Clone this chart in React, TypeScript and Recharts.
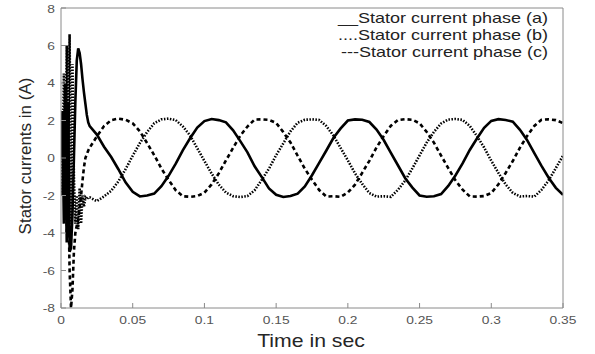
import React from "react";
import { LineChart, Line, XAxis, YAxis, Legend, Label } from "recharts";

// time axis (s): fine steps during start-up, then 5 ms
const TIME_START = [
  0, 0.001, 0.002, 0.003, 0.004, 0.005, 0.006, 0.007, 0.008, 0.009,
  0.01, 0.011, 0.012, 0.013, 0.014, 0.015, 0.016, 0.017, 0.018, 0.019,
];
const TIME_STEADY = [
  0.02, 0.025, 0.03, 0.035, 0.04, 0.045, 0.05, 0.055, 0.06, 0.065,
  0.07, 0.075, 0.08, 0.085, 0.09, 0.095, 0.1, 0.105, 0.11, 0.115,
  0.12, 0.125, 0.13, 0.135, 0.14, 0.145, 0.15, 0.155, 0.16, 0.165,
  0.17, 0.175, 0.18, 0.185, 0.19, 0.195, 0.2, 0.205, 0.21, 0.215,
  0.22, 0.225, 0.23, 0.235, 0.24, 0.245, 0.25, 0.255, 0.26, 0.265,
  0.27, 0.275, 0.28, 0.285, 0.29, 0.295, 0.3, 0.305, 0.31, 0.315,
  0.32, 0.325, 0.33, 0.335, 0.34, 0.345, 0.35,
];

// start-up transient
const A_START = [0, 2.5, -3.5, 4.0, -4.5, 3.0, -5.0, -4.8, -3.0, 0.0, 3.0, 5.2, 5.85, 5.6, 5.0, 4.2, 3.5, 2.9, 2.3, 1.9];
const B_START = [0, -2.0, 4.5, -2.5, 6.0, -0.5, 6.6, -3.5, 5.0, -1.0, -3.5, -2.0, -3.8, -1.6, -3.5, -2.0, -2.6, -2.1, -2.2, -2.1];
const C_START = [0, 1.5, -2.0, 3.0, -4.0, -1.5, -6.0, -8.0, -7.0, -5.0, -4.0, -3.6, -3.3, -2.7, -2.0, -1.2, -0.5, 0.0, 0.2, 0.4];

// steady state
const A_STEADY = [
  1.7, 1.25, 0.6, 0.05, -0.6, -1.3, -1.8, -2.05, -2.0, -1.9,
  -1.5, -0.95, -0.3, 0.42, 1.05, 1.62, 1.97, 2.08, 2.02, 1.9,
  1.48, 0.9, 0.3, -0.44, -1.02, -1.62, -1.96, -2.08, -2.03, -1.9,
  -1.52, -0.92, -0.26, 0.4, 1.08, 1.58, 2.0, 2.06, 2.04, 1.92,
  1.52, 0.96, 0.27, -0.4, -1.08, -1.58, -2.0, -2.07, -2.04, -1.92,
  -1.49, -0.93, -0.29, 0.43, 1.04, 1.61, 1.98, 2.07, 2.03, 1.94,
  1.5, 0.95, 0.26, -0.42, -1.05, -1.59, -1.97,
];
const B_STEADY = [
  -2.1, -2.3, -2.05, -1.75, -1.25, -0.6, 0.12, 0.8, 1.38, 1.85,
  2.06, 2.1, 2.02, 1.68, 1.2, 0.52, -0.16, -0.83, -1.42, -1.84,
  -2.04, -2.08, -2.03, -1.72, -1.16, -0.57, 0.15, 0.78, 1.42, 1.88,
  2.04, 2.06, 2.03, 1.7, 1.19, 0.53, -0.13, -0.82, -1.38, -1.87,
  -2.06, -2.04, -2.07, -1.69, -1.2, -0.55, 0.14, 0.83, 1.39, 1.84,
  2.05, 2.08, 2.03, 1.71, 1.17, 0.56, -0.15, -0.8, -1.41, -1.86,
  -2.05, -2.03, -2.06, -1.7, -1.19, -0.54, 0.13,
];
const C_STEADY = [
  0.55, 1.15, 1.7, 2.02, 2.1, 2.04, 1.85, 1.42, 0.8, 0.15,
  -0.56, -1.17, -1.72, -2.04, -2.07, -2.03, -1.85, -1.41, -0.82, -0.13,
  0.54, 1.19, 1.68, 2.05, 2.06, 2.03, 1.87, 1.38, 0.83, 0.12,
  -0.57, -1.16, -1.71, -2.06, -2.04, -2.07, -1.84, -1.42, -0.79, -0.15,
  0.56, 1.17, 1.72, 2.03, 2.07, 2.04, 1.85, 1.39, 0.82, 0.13,
  -0.54, -1.19, -1.69, -2.05, -2.06, -2.03, -1.87, -1.4, -0.8, -0.16,
  0.55, 1.18, 1.71, 2.04, 2.06, 2.02, 1.86,
];

const X_TICKS = [0, 0.05, 0.1, 0.15, 0.2, 0.25, 0.3, 0.35];
const Y_TICKS = [-8, -6, -4, -2, 0, 2, 4, 6, 8];

const LEGEND_LABELS = [
  "__Stator current phase (a)",
  "....Stator current phase (b)",
  "---Stator current phase (c)",
];

const TIME = [...TIME_START, ...TIME_STEADY];
const PHASE_A = [...A_START, ...A_STEADY];
const PHASE_B = [...B_START, ...B_STEADY];
const PHASE_C = [...C_START, ...C_STEADY];

const data = TIME.map((t, i) => ({ t, a: PHASE_A[i], b: PHASE_B[i], c: PHASE_C[i] }));

const FONT = "'Liberation Sans', Arial, sans-serif";
const BOX = "#8a8a8a";

const XTick = ({ x, y, payload }: any) => (
  <g transform={`translate(${x},${y})`}>
    <text transform="scale(1.2,1)" textAnchor="middle" dy="0.71em" fontSize={11.5} fill="#555" fontFamily={FONT}>
      {payload.value}
    </text>
  </g>
);

const YTick = ({ x, y, payload }: any) => (
  <g transform={`translate(${x},${y})`}>
    <text transform="scale(1.2,1)" textAnchor="end" dy="0.35em" fontSize={11.5} fill="#555" fontFamily={FONT}>
      {payload.value}
    </text>
  </g>
);

const LegendBox = () => (
  <div style={{ fontFamily: FONT, fontSize: 15, lineHeight: "17px", color: "#222", textAlign: "right" }}>
    {LEGEND_LABELS.map((s) => (
      <div key={s} style={{ transform: "scaleX(1.2)", transformOrigin: "right center", whiteSpace: "nowrap" }}>
        {s}
      </div>
    ))}
  </div>
);

export default function App() {
  return (
    <div style={{ width: 595, height: 354, background: "#fff" }}>
      <style>{"body{margin:0}"}</style>
      <LineChart width={595} height={354} data={data} margin={{ top: 0, right: 0, bottom: 0, left: 0 }}>
        <XAxis
          dataKey="t"
          type="number"
          domain={[0, 0.35]}
          ticks={X_TICKS}
          allowDataOverflow
          height={46}
          stroke={BOX}
          tickSize={-5}
          tickMargin={13}
          tick={<XTick />}
        >
          <Label
            content={() => (
              <g transform="translate(311,341) scale(1.18,1)">
                <text textAnchor="middle" dominantBaseline="central" fontSize={18} fill="#262626" fontFamily={FONT}>
                  Time in sec
                </text>
              </g>
            )}
          />
        </XAxis>
        <XAxis
          xAxisId="top"
          orientation="top"
          dataKey="t"
          type="number"
          domain={[0, 0.35]}
          ticks={X_TICKS}
          allowDataOverflow
          height={8}
          stroke={BOX}
          tickSize={-5}
          tick={false}
        />
        <YAxis
          yAxisId="l"
          type="number"
          domain={[-8, 8]}
          ticks={Y_TICKS}
          allowDataOverflow
          width={61}
          stroke={BOX}
          tickSize={-5}
          tickMargin={11}
          tick={<YTick />}
        >
          <Label
            content={() => (
              <text
                x={25}
                y={156}
                transform="rotate(-90 25 156)"
                textAnchor="middle"
                dominantBaseline="central"
                fontSize={17}
                fill="#262626"
                fontFamily={FONT}
              >
                Stator currents in (A)
              </text>
            )}
          />
        </YAxis>
        <YAxis
          yAxisId="r"
          orientation="right"
          type="number"
          domain={[-8, 8]}
          ticks={Y_TICKS}
          allowDataOverflow
          width={32}
          stroke={BOX}
          tickSize={-5}
          tick={false}
        />
        <Legend
          layout="horizontal"
          verticalAlign="middle"
          align="center"
          content={<LegendBox />}
          wrapperStyle={{ top: 9, left: 250, width: 298 }}
        />
        <Line yAxisId="l" dataKey="a" name="Stator current phase (a)" stroke="#000" strokeWidth={2.6} dot={false} type="linear" isAnimationActive={false} />
        <Line yAxisId="l" dataKey="b" name="Stator current phase (b)" stroke="#000" strokeWidth={2.6} strokeDasharray="1.5 1.5" dot={false} type="linear" isAnimationActive={false} />
        <Line yAxisId="l" dataKey="c" name="Stator current phase (c)" stroke="#000" strokeWidth={2.6} strokeDasharray="4 3" dot={false} type="linear" isAnimationActive={false} />
      </LineChart>
    </div>
  );
}
